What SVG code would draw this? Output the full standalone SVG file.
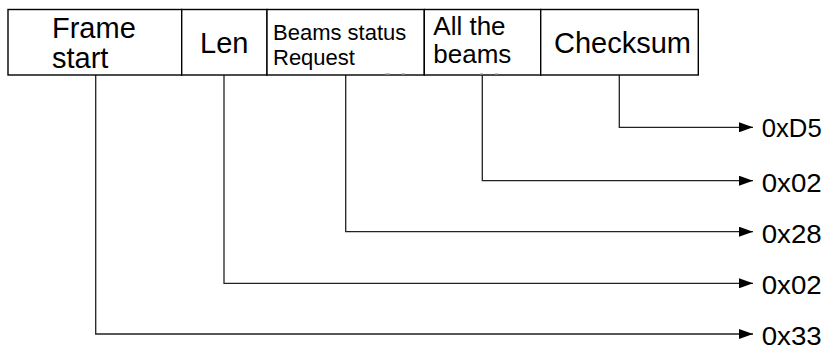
<svg xmlns="http://www.w3.org/2000/svg" width="832" height="351" viewBox="0 0 832 351">
  <style>
    .box { fill: #ffffff; stroke: #000000; stroke-width: 1.4; }
    .lbl { font-family: "Liberation Sans", Arial, sans-serif; fill: #000000; }
    .conn { fill: none; stroke: #222222; stroke-width: 1.3; }
    .val { font-family: "Liberation Sans", Arial, sans-serif; font-size: 25.5px; fill: #000000; }
    .tick { stroke: #9a9a9a; stroke-width: 1.2; }
  </style>
  <defs>
    <marker id="arrow" viewBox="0 0 14 10" refX="14" refY="5" markerWidth="14" markerHeight="10" markerUnits="userSpaceOnUse" orient="auto">
      <path d="M0,0 L14,5 L0,10 Z" fill="#000000"/>
    </marker>
  </defs>
  <rect width="832" height="351" fill="#ffffff"/>

  <g id="connectors">
    <polyline class="conn" points="619.3,75 619.3,127.3 753,127.3" marker-end="url(#arrow)"/>
    <polyline class="conn" points="482.3,75 482.3,180.7 753,180.7" marker-end="url(#arrow)"/>
    <polyline class="conn" points="345.7,75 345.7,231.7 753,231.7" marker-end="url(#arrow)"/>
    <polyline class="conn" points="224,75 224,283.3 753,283.3" marker-end="url(#arrow)"/>
    <polyline class="conn" points="95.7,75 95.7,334 753,334" marker-end="url(#arrow)"/>
  </g>

  <g id="frame-start">
    <rect class="box" x="8" y="9.5" width="173.7" height="65.5"/>
    <text class="lbl" x="52" y="37.5" font-size="29">Frame</text>
    <text class="lbl" x="52" y="68" font-size="29">start</text>
  </g>
  <g id="len">
    <rect class="box" x="181.7" y="9.5" width="85.3" height="65.5"/>
    <text class="lbl" x="200" y="53.3" font-size="29">Len</text>
  </g>
  <g id="beams-status-request">
    <rect class="box" x="267" y="9.5" width="157.3" height="65.5"/>
    <text class="lbl" x="273" y="40" font-size="22">Beams status</text>
    <text class="lbl" x="273" y="65" font-size="22">Request</text>
    <line class="tick" x1="385" y1="74" x2="390" y2="74"/>
    <line class="tick" x1="401.5" y1="74" x2="405" y2="74"/>
  </g>
  <g id="all-the-beams">
    <rect class="box" x="424.3" y="9.5" width="116.4" height="65.5"/>
    <text class="lbl" x="433.3" y="35" font-size="26">All the</text>
    <text class="lbl" x="433.3" y="63" font-size="26">beams</text>
    <line class="tick" x1="480" y1="74" x2="483" y2="74"/>
    <line class="tick" x1="495" y1="74" x2="498" y2="74"/>
  </g>
  <g id="checksum">
    <rect class="box" x="540.7" y="9.5" width="157.6" height="65.5"/>
    <text class="lbl" x="554" y="53" font-size="29">Checksum</text>
  </g>

  <g id="values">
    <text class="val" x="761.7" y="136.5" textLength="60" lengthAdjust="spacingAndGlyphs">0xD5</text>
    <text class="val" x="761.7" y="191.5" textLength="60" lengthAdjust="spacingAndGlyphs">0x02</text>
    <text class="val" x="761.7" y="242.5" textLength="60" lengthAdjust="spacingAndGlyphs">0x28</text>
    <text class="val" x="761.7" y="294" textLength="60" lengthAdjust="spacingAndGlyphs">0x02</text>
    <text class="val" x="761.7" y="344.5" textLength="60" lengthAdjust="spacingAndGlyphs">0x33</text>
  </g>
</svg>
